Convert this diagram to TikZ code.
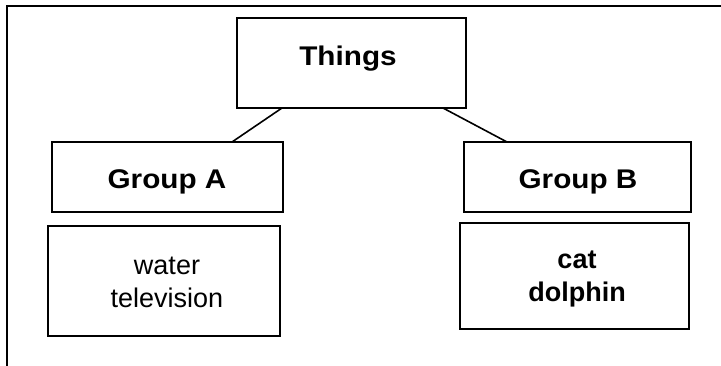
\documentclass[tikz,border=0pt]{standalone}
\usepackage{fontspec}
\setmainfont{Liberation Sans}
\newfontfamily\headfont{Liberation Sans}[FakeStretch=1.1]
\newfontfamily\bodyfont{Liberation Sans}
\begin{document}
\begin{tikzpicture}[x=1pt,y=-1pt,
  box/.style={draw=black, line width=1.8pt, rectangle, inner sep=0pt, outer sep=0pt},
  frame/.style={draw=black, line width=2pt},
  conn/.style={draw=black, line width=1.6pt},
  head/.style={font=\headfont\bfseries\fontsize{27}{31}\selectfont, inner sep=0pt, anchor=base},
  body/.style={font=\bodyfont\fontsize{27}{33}\selectfont, align=center, inner sep=0pt},
  bodybold/.style={body, font=\bodyfont\bfseries\fontsize{27}{33}\selectfont}]
\useasboundingbox (0,0) rectangle (721,366);
% outer frame (top and left edges)
\coordinate (fTR) at (721,6);
\coordinate (fTL) at (7,6);
\coordinate (fBL) at (7,366);
\draw[frame] (fTR) -- (fTL) -- (fBL);
% boxes
\node[box, minimum width=229pt, minimum height=90pt] (things) at (351.5,63) {};
\node[box, minimum width=231pt, minimum height=70pt] (ga) at (167.5,177) {};
\node[box, minimum width=227pt, minimum height=70pt] (gb) at (577.5,177) {};
\node[box, minimum width=232pt, minimum height=110pt] (wa) at (164,281) {};
\node[box, minimum width=229pt, minimum height=106pt] (cb) at (574.5,276) {};
% texts
\node[head] (thingsT) at (348,66) {Things};
\node[head] (gaT) at (167,189) {Group A};
\node[head] (gbT) at (578,189) {Group B};
\node[body] (waT) at (167,282) {water\\television};
\node[bodybold] (cbT) at (577,279) {cat\\dolphin};
% connectors
\draw[conn] ([xshift=45pt]things.south west) -- ([xshift=180pt]ga.north west);
\draw[conn] ([xshift=206pt]things.south west) -- ([xshift=43pt]gb.north west);
\end{tikzpicture}
\end{document}
